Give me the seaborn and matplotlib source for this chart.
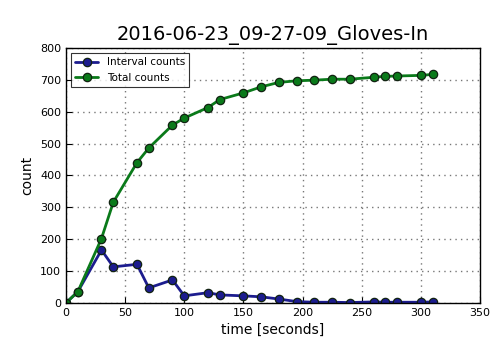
import pandas as pd
import seaborn as sns
from matplotlib import pyplot as plt

# time in seconds
times = [0, 10, 30, 40, 60, 70, 90, 100, 120, 130, 150, 165, 180, 195,
         210, 225, 240, 260, 270, 280, 300, 310]
interval_counts = [0, 35, 166, 113, 121, 47, 72, 22, 32, 25, 22, 19, 12, 4,
                   2, 2, 1, 3, 2, 2, 2, 3]
total_counts = [0, 35, 202, 316, 440, 486, 558, 580, 613, 638, 659, 678, 692,
                697, 699, 702, 702, 708, 711, 712, 714, 717]

df = pd.DataFrame({"time": times,
                   "Interval counts": interval_counts,
                   "Total counts": total_counts})
df = pd.melt(df, id_vars=["time"], value_vars=["Interval counts", "Total counts"])

sns.set_style("ticks")
plt.rcParams["font.family"] = ["DejaVu Sans"]
plt.rcParams["text.color"] = "black"
plt.rcParams["xtick.color"] = "black"
plt.rcParams["ytick.color"] = "black"
plt.rcParams["axes.labelcolor"] = "black"

fig = plt.figure(figsize=(5, 3.58), dpi=100)
ax = fig.add_axes([0.132, 0.154, 0.828, 0.712])

sns.lineplot(x="time", y="value", hue="variable", data=df, ax=ax,
             palette={"Interval counts": "#1c1c8e", "Total counts": "#0a7a1a"},
             marker="o", markersize=6, markeredgecolor="#112211",
             markeredgewidth=0.9, linewidth=2)

ax.set_xlim(0, 350)
ax.set_ylim(0, 800)
ax.set_xticks(range(0, 351, 50))
ax.set_yticks(range(0, 801, 100))
ax.tick_params(labelsize=8, direction="in", length=4)
ax.grid(True, linestyle=(0, (1, 3)), color="#777777", linewidth=1)
for s in ax.spines.values():
    s.set_color("black")
    s.set_linewidth(1)
ax.set_xlabel("time [seconds]", fontsize=10)
ax.set_ylabel("count", fontsize=10)
ax.set_title("2016-06-23_09-27-09_Gloves-In", fontsize=14)

leg = ax.legend(loc="upper left", fontsize=7.5, frameon=True, fancybox=False,
                edgecolor="black", borderpad=0.4, handlelength=2.2)
leg.get_frame().set_linewidth(0.8)

fig.savefig("out.png", dpi=100)
